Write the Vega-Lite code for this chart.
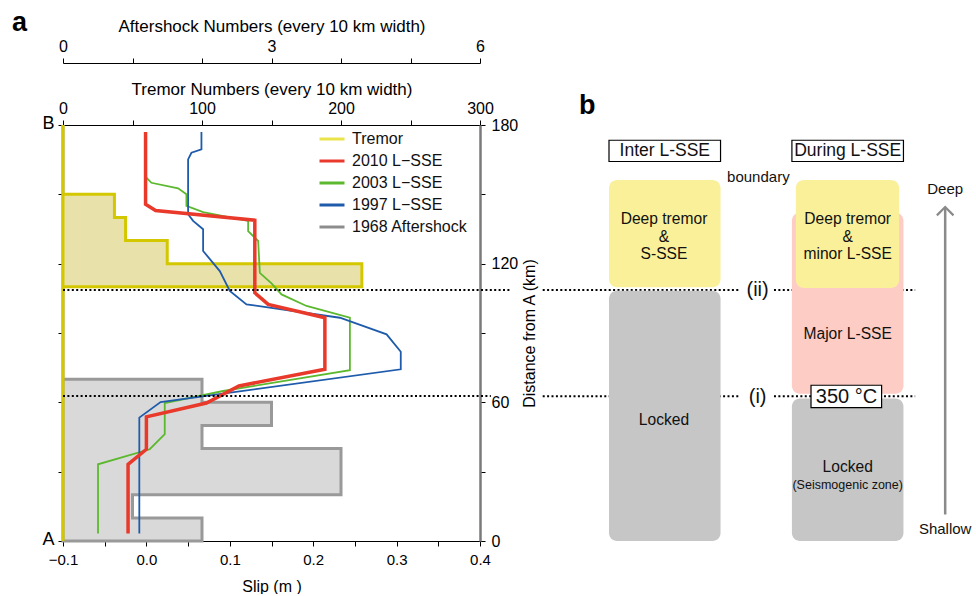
{
  "$schema": "https://vega.github.io/schema/vega-lite/v6.json",
  "padding": {"left": 12, "top": 9, "right": 0, "bottom": 0},
  "config": {
    "font": "Liberation Sans",
    "view": {"stroke": null},
    "axis": {"grid": false, "domainColor": "#000000", "tickColor": "#000000", "labelColor": "#000000", "titleColor": "#000000", "labelFontSize": 15, "titleFontSize": 16, "titleFontWeight": "normal", "tickSize": 5, "labelFlush": false, "labelOverlap": false},
    "legend": {"labelFontSize": 16, "symbolType": "stroke", "symbolSize": 625, "symbolStrokeWidth": 3, "rowPadding": -4.2, "labelOffset": 6, "padding": 0, "labelColor": "#111111"}
  },
  "datasets": {
    "slip": [
      {"series": "2010 L−SSE", "slip": -0.001, "km": 177},
      {"series": "2010 L−SSE", "slip": -0.001, "km": 145.7},
      {"series": "2010 L−SSE", "slip": 0.011, "km": 143},
      {"series": "2010 L−SSE", "slip": 0.130, "km": 138.8},
      {"series": "2010 L−SSE", "slip": 0.130, "km": 107.4},
      {"series": "2010 L−SSE", "slip": 0.146, "km": 102.4},
      {"series": "2010 L−SSE", "slip": 0.214, "km": 96.6},
      {"series": "2010 L−SSE", "slip": 0.214, "km": 74.3},
      {"series": "2010 L−SSE", "slip": 0.111, "km": 67.1},
      {"series": "2010 L−SSE", "slip": 0.072, "km": 59.7},
      {"series": "2010 L−SSE", "slip": 0.0, "km": 53.7},
      {"series": "2010 L−SSE", "slip": 0.0, "km": 39.7},
      {"series": "2010 L−SSE", "slip": -0.022, "km": 33.2},
      {"series": "2010 L−SSE", "slip": -0.022, "km": 3.2},
      {"series": "2003 L−SSE", "slip": 0.0, "km": 157.2},
      {"series": "2003 L−SSE", "slip": 0.006, "km": 155},
      {"series": "2003 L−SSE", "slip": 0.038, "km": 152.6},
      {"series": "2003 L−SSE", "slip": 0.048, "km": 150},
      {"series": "2003 L−SSE", "slip": 0.048, "km": 145},
      {"series": "2003 L−SSE", "slip": 0.068, "km": 142.3},
      {"series": "2003 L−SSE", "slip": 0.122, "km": 138.5},
      {"series": "2003 L−SSE", "slip": 0.122, "km": 134.1},
      {"series": "2003 L−SSE", "slip": 0.134, "km": 129.8},
      {"series": "2003 L−SSE", "slip": 0.136, "km": 116},
      {"series": "2003 L−SSE", "slip": 0.150, "km": 111.5},
      {"series": "2003 L−SSE", "slip": 0.162, "km": 106.7},
      {"series": "2003 L−SSE", "slip": 0.192, "km": 101.7},
      {"series": "2003 L−SSE", "slip": 0.244, "km": 96.6},
      {"series": "2003 L−SSE", "slip": 0.244, "km": 73.9},
      {"series": "2003 L−SSE", "slip": 0.092, "km": 64.9},
      {"series": "2003 L−SSE", "slip": 0.022, "km": 59.7},
      {"series": "2003 L−SSE", "slip": 0.022, "km": 46.2},
      {"series": "2003 L−SSE", "slip": 0.004, "km": 39.7},
      {"series": "2003 L−SSE", "slip": -0.058, "km": 33.2},
      {"series": "2003 L−SSE", "slip": -0.058, "km": 3.2},
      {"series": "1997 L−SSE", "slip": 0.066, "km": 177},
      {"series": "1997 L−SSE", "slip": 0.066, "km": 169.5},
      {"series": "1997 L−SSE", "slip": 0.054, "km": 168},
      {"series": "1997 L−SSE", "slip": 0.050, "km": 165.1},
      {"series": "1997 L−SSE", "slip": 0.050, "km": 141.4},
      {"series": "1997 L−SSE", "slip": 0.056, "km": 138.5},
      {"series": "1997 L−SSE", "slip": 0.068, "km": 134.9},
      {"series": "1997 L−SSE", "slip": 0.068, "km": 125.5},
      {"series": "1997 L−SSE", "slip": 0.088, "km": 116.8},
      {"series": "1997 L−SSE", "slip": 0.100, "km": 108.2},
      {"series": "1997 L−SSE", "slip": 0.120, "km": 102.4},
      {"series": "1997 L−SSE", "slip": 0.232, "km": 96.6},
      {"series": "1997 L−SSE", "slip": 0.288, "km": 89.4},
      {"series": "1997 L−SSE", "slip": 0.305, "km": 81.9},
      {"series": "1997 L−SSE", "slip": 0.305, "km": 74.3},
      {"series": "1997 L−SSE", "slip": 0.017, "km": 60.1},
      {"series": "1997 L−SSE", "slip": -0.0085, "km": 53.4},
      {"series": "1997 L−SSE", "slip": -0.0085, "km": 3.2}
    ]
  },
  "bounds": "flush",
  "spacing": 90,
  "hconcat": [
    {
      "width": 417,
      "height": 416,
      "layer": [
        {
          "data": {"values": [
            {"km": 0, "n": 2}, {"km": 10, "n": 1}, {"km": 20, "n": 4}, {"km": 30, "n": 4},
            {"km": 40, "n": 2}, {"km": 50, "n": 3}, {"km": 60, "n": 2}, {"km": 70, "n": 0},
            {"km": 80, "n": 0}, {"km": 90, "n": 0}, {"km": 100, "n": 0}, {"km": 110, "n": 0},
            {"km": 120, "n": 0}, {"km": 130, "n": 0}, {"km": 140, "n": 0}, {"km": 150, "n": 0},
            {"km": 160, "n": 0}, {"km": 170, "n": 0}, {"km": 180, "n": 0}
          ]},
          "mark": {"type": "area", "orient": "horizontal", "interpolate": "step-after", "fill": "#d9d9d9", "stroke": "#999999", "strokeWidth": 3},
          "encoding": {
            "x": {"field": "n", "type": "quantitative", "stack": null, "scale": {"domain": [0, 6]},
              "axis": {"orient": "top", "offset": 62, "values": [0, 1, 2, 3, 4, 5, 6], "labelExpr": "datum.value % 3 === 0 ? datum.label : ''", "title": "Aftershock Numbers (every 10 km width)", "titleFontSize": 17, "labelFontSize": 16, "labelPadding": 4, "titlePadding": 3}},
            "y": {"field": "km", "type": "quantitative", "scale": {"domain": [0, 180]},
              "axis": {"orient": "left", "values": [0, 30, 60, 90, 120, 150, 180], "labelExpr": "datum.value === 180 ? 'B' : (datum.value === 0 ? 'A' : '')", "labelFontSize": 18, "labelPadding": 4, "labelOffset": -2, "title": null}}
          }
        },
        {
          "data": {"values": [
            {"km": 0, "n": 0}, {"km": 10, "n": 0}, {"km": 20, "n": 0}, {"km": 30, "n": 0},
            {"km": 40, "n": 0}, {"km": 50, "n": 0}, {"km": 60, "n": 0}, {"km": 70, "n": 0},
            {"km": 80, "n": 0}, {"km": 90, "n": 0}, {"km": 100, "n": 0}, {"km": 110, "n": 215},
            {"km": 120, "n": 75}, {"km": 130, "n": 45}, {"km": 140, "n": 37}, {"km": 150, "n": 0},
            {"km": 160, "n": 0}, {"km": 170, "n": 0}, {"km": 180, "n": 0}
          ]},
          "mark": {"type": "area", "orient": "horizontal", "interpolate": "step-after", "fill": "#e8e1aa", "stroke": "#d3c800", "strokeWidth": 3},
          "encoding": {
            "x": {"field": "n", "type": "quantitative", "stack": null, "scale": {"domain": [0, 300]},
              "axis": {"orient": "top", "values": [0, 50, 100, 150, 200, 250, 300], "labelExpr": "datum.value % 100 === 0 ? datum.label : ''", "title": "Tremor Numbers (every 10 km width)", "titleFontSize": 17, "labelFontSize": 16, "labelPadding": 4, "titlePadding": 2}},
            "y": {"field": "km", "type": "quantitative", "scale": {"domain": [0, 180]}, "axis": null}
          }
        },
        {
          "layer": [
            {"mark": {"type": "rule", "color": "#999999", "strokeWidth": 1, "strokeDash": [5, 3]}, "encoding": {"x": {"datum": 0.1, "type": "quantitative"}}},
            {"mark": {"type": "rule", "color": "#999999", "strokeWidth": 1}, "encoding": {"x": {"datum": 0.2, "type": "quantitative"}}},
            {
              "data": {"name": "slip"},
              "transform": [{"filter": "datum.series !== '2010 L−SSE'"}],
              "mark": {"type": "line", "strokeWidth": 1.8},
              "encoding": {
                "x": {"field": "slip", "type": "quantitative", "scale": {"domain": [-0.1, 0.4]},
                  "axis": {"orient": "bottom", "values": [-0.1, -0.05, 0, 0.05, 0.1, 0.15, 0.2, 0.25, 0.3, 0.35, 0.4], "labelExpr": "abs(datum.value * 10 - round(datum.value * 10)) < 0.000001 ? format(datum.value, '.1f') : ''", "title": "Slip (m )", "labelPadding": 6, "titlePadding": 11}},
                "y": {"field": "km", "type": "quantitative", "scale": {"domain": [0, 180]},
                  "axis": {"orient": "right", "values": [0, 30, 60, 90, 120, 150, 180], "labelExpr": "datum.value % 60 === 0 ? datum.label : ''", "title": "Distance from A (km)", "titleAngle": 270, "titleBaseline": "top", "labelFontSize": 16, "labelPadding": 6, "titlePadding": 4, "domainColor": "#7a7a7a", "domainWidth": 2.5}},
                "color": {"field": "series", "type": "nominal",
                  "scale": {"domain": ["Tremor", "2010 L−SSE", "2003 L−SSE", "1997 L−SSE", "1968 Aftershock"], "range": ["#ebe34a", "#e8392b", "#5cb82e", "#1f5bab", "#8c8c8c"]},
                  "legend": {"orient": "none", "legendX": 255, "legendY": 0, "title": null}},
                "order": {"field": "km", "type": "quantitative", "sort": "descending"}
              }
            },
            {
              "data": {"name": "slip"},
              "transform": [{"filter": "datum.series === '2010 L−SSE'"}],
              "mark": {"type": "line", "strokeWidth": 3.5},
              "encoding": {
                "x": {"field": "slip", "type": "quantitative"},
                "y": {"field": "km", "type": "quantitative"},
                "color": {"field": "series", "type": "nominal"},
                "order": {"field": "km", "type": "quantitative", "sort": "descending"}
              }
            },
            {
              "data": {"values": [
                {"km": 108.6, "slip": -0.1, "slip2": 0.438},
                {"km": 62.7, "slip": -0.1, "slip2": 0.413}
              ]},
              "mark": {"type": "rule", "color": "#000000", "strokeWidth": 2, "strokeDash": [2, 2.4]},
              "encoding": {
                "x": {"field": "slip", "type": "quantitative"},
                "x2": {"field": "slip2"},
                "y": {"field": "km", "type": "quantitative"}
              }
            },
            {
              "data": {"values": [{"label": "a", "slip": -0.152, "km": 224}]},
              "mark": {"type": "text", "fontSize": 27, "fontWeight": "bold", "align": "center", "baseline": "middle", "color": "#000000"},
              "encoding": {
                "x": {"field": "slip", "type": "quantitative"},
                "y": {"field": "km", "type": "quantitative"},
                "text": {"field": "label"}
              }
            }
          ]
        }
      ],
      "resolve": {"scale": {"x": "independent", "y": "independent"}, "axis": {"x": "independent", "y": "independent"}}
    },
    {
      "width": 390,
      "height": 416,
      "encoding": {
        "x": {"field": "u", "type": "quantitative", "scale": {"domain": [0, 100]}, "axis": null},
        "y": {"field": "km", "type": "quantitative", "scale": {"domain": [0, 180]}, "axis": null}
      },
      "layer": [
        {
          "data": {"values": [
            {"u": -7, "u2": 43.6, "km": 108.6}, {"u": 52.3, "u2": 88.5, "km": 108.6},
            {"u": -7, "u2": 43.6, "km": 62.6}, {"u": 52.3, "u2": 88.5, "km": 62.6}
          ]},
          "mark": {"type": "rule", "color": "#000000", "strokeWidth": 2, "strokeDash": [2, 2.4]},
          "encoding": {"x2": {"field": "u2"}}
        },
        {
          "data": {"values": [
            {"zone": "tremor", "u": 10, "u2": 38.6, "km": 156.2, "km2": 109.8},
            {"zone": "locked", "u": 10, "u2": 38.6, "km": 108.3, "km2": 0},
            {"zone": "major", "u": 56.9, "u2": 85.5, "km": 142, "km2": 63.7},
            {"zone": "tremor", "u": 57.9, "u2": 84.4, "km": 156.2, "km2": 109.5},
            {"zone": "locked", "u": 56.9, "u2": 85.5, "km": 61.7, "km2": 0}
          ]},
          "mark": {"type": "rect", "cornerRadius": 8},
          "encoding": {
            "x2": {"field": "u2"},
            "y2": {"field": "km2"},
            "fill": {"field": "zone", "type": "nominal", "scale": {"domain": ["tremor", "major", "locked"], "range": ["#faf09a", "#fdccc4", "#c5c6c5"]}, "legend": null}
          }
        },
        {
          "data": {"values": [
            {"u": 10, "u2": 38.6, "km": 173.4, "km2": 164.2},
            {"u": 56.9, "u2": 85.5, "km": 173.4, "km2": 164.2},
            {"u": 61.8, "u2": 79.9, "km": 67.4, "km2": 57.7}
          ]},
          "mark": {"type": "rect", "fill": "#ffffff", "stroke": "#000000", "strokeWidth": 1.2},
          "encoding": {"x2": {"field": "u2"}, "y2": {"field": "km2"}}
        },
        {
          "data": {"values": [
            {"label": "Inter L-SSE", "u": 24.3, "km": 168.7},
            {"label": "During L-SSE", "u": 71.2, "km": 168.7}
          ]},
          "mark": {"type": "text", "fontSize": 17.5, "color": "#111111", "baseline": "middle"},
          "encoding": {"text": {"field": "label"}}
        },
        {
          "data": {"values": [
            {"label": "350 °C", "u": 70.9, "km": 62.5},
            {"label": "(ii)", "u": 48.1, "km": 108.5},
            {"label": "(i)", "u": 48.1, "km": 62.4}
          ]},
          "mark": {"type": "text", "fontSize": 20, "color": "#111111", "baseline": "middle"},
          "encoding": {"text": {"field": "label"}}
        },
        {
          "data": {"values": [
            {"label": "Deep tremor", "u": 24.1, "km": 139.5},
            {"label": "&", "u": 24.1, "km": 131.7},
            {"label": "S-SSE", "u": 24.1, "km": 124},
            {"label": "Deep tremor", "u": 71.2, "km": 139.5},
            {"label": "&", "u": 71.2, "km": 131.7},
            {"label": "minor L-SSE", "u": 71.2, "km": 124},
            {"label": "Major L-SSE", "u": 71.2, "km": 89.4},
            {"label": "Locked", "u": 24.1, "km": 52.4},
            {"label": "Locked", "u": 71.2, "km": 32.2}
          ]},
          "mark": {"type": "text", "fontSize": 15.6, "color": "#111111", "baseline": "middle"},
          "encoding": {"text": {"field": "label"}}
        },
        {
          "data": {"values": [
            {"label": "boundary", "u": 48.3, "km": 157.5},
            {"label": "Deep", "u": 96.2, "km": 152.2},
            {"label": "Shallow", "u": 96.2, "km": 5.3}
          ]},
          "mark": {"type": "text", "fontSize": 15, "color": "#111111", "baseline": "middle"},
          "encoding": {"text": {"field": "label"}}
        },
        {
          "data": {"values": [{"label": "(Seismogenic zone)", "u": 71.2, "km": 24.2}]},
          "mark": {"type": "text", "fontSize": 12.5, "color": "#111111", "baseline": "middle"},
          "encoding": {"text": {"field": "label"}}
        },
        {
          "data": {"values": [{"label": "b", "u": 4.4, "km": 188.3}]},
          "mark": {"type": "text", "fontSize": 27, "fontWeight": "bold", "color": "#000000", "baseline": "middle"},
          "encoding": {"text": {"field": "label"}}
        },
        {
          "data": {"values": [{"u": 96.2, "km": 11.5, "km2": 144.3}]},
          "mark": {"type": "rule", "color": "#8a8a8a", "strokeWidth": 2.5},
          "encoding": {"y2": {"field": "km2"}}
        },
        {
          "data": {"values": [{"u": 96.2, "km": 144.5}]},
          "mark": {"type": "point", "shape": "M-1,1L0,0L1,1", "size": 276, "filled": false, "color": "#8a8a8a", "strokeWidth": 2.2, "opacity": 1}
        }
      ]
    }
  ]
}
